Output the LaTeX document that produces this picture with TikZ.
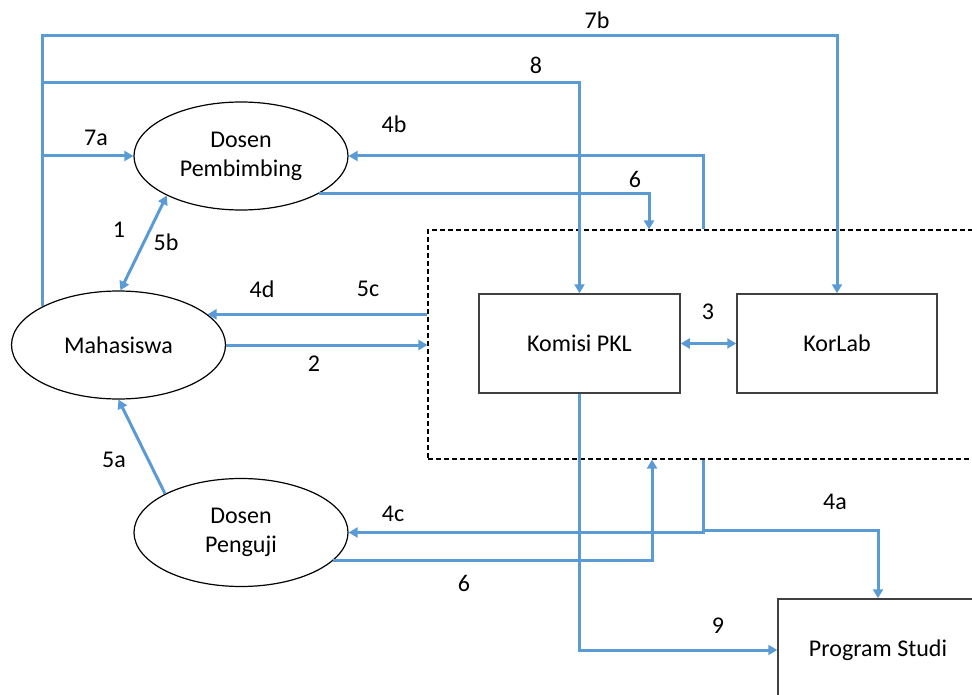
\documentclass[tikz,border=0pt]{standalone}
\usepackage{fontspec}
\setmainfont{Carlito}
\usetikzlibrary{arrows.meta,shapes.geometric,calc}
\definecolor{flow}{RGB}{91,155,213}
\begin{document}
\begin{tikzpicture}[x=1pt,y=-1pt,
  every node/.style={font=\fontsize{24}{29}\selectfont},
  ell/.style={ellipse,draw=black,line width=1.2pt,minimum width=214pt,minimum height=108pt,inner sep=0pt,align=center},
  boxnode/.style={rectangle,draw=black!75,line width=1.5pt,inner sep=0pt,align=center},
  lbl/.style={inner sep=0pt},
  flowline/.style={draw=flow,line width=3pt},
  arr/.style={flowline,-{Triangle[length=9pt,width=10pt]}},
  dblarr/.style={flowline,{Triangle[length=9pt,width=10pt]}-{Triangle[length=9pt,width=10pt]}},
  group/.style={draw=black,line width=1.1pt,dash pattern=on 5pt off 3pt,inner sep=0pt}
]
\useasboundingbox (0,0) rectangle (972,695);
\clip (0,0) rectangle (972,695);

% group and nodes
\node[group,minimum width=570pt,minimum height=229pt] (grp) at (713,344.5) {};
\node[ell] (M) at (118.5,345) {Mahasiswa};
\node[ell] (DP) at (241,156) {Dosen\\Pembimbing};
\node[ell] (DG) at (241,532.5) {Dosen\\Penguji};
\node[boxnode,minimum width=201pt,minimum height=99pt] (KP) at (579.5,343.5) {Komisi PKL};
\node[boxnode,minimum width=200pt,minimum height=99pt] (KL) at (837,343.5) {KorLab};
\node[boxnode,minimum width=200pt,minimum height=102pt] (PS) at (878,650) {Program Studi};

% helper coordinates
\coordinate (x703) at (703,0);
\coordinate (x649) at (649,0);
\coordinate (x652) at (652,0);
\coordinate (y7b) at (0,36);
\coordinate (y8) at (0,83);
\coordinate (j4) at (703,530);

% connectors
\draw[arr] (M.153) -- (M.153 |- y7b) -| (KL.north);
\draw[arr] (M.153 |- y8) -| (KP.north);
\draw[arr] (M.153 |- DP.west) -- (DP.west);
\draw[arr] (grp.north -| x703) |- (DP.east);
\draw[arr] (DP.-26) -| (grp.north -| x649);
\draw[dblarr] (M.88) -- (DP.208);
\draw[arr] (grp.west |- M.19) -- (M.19);
\draw[arr] (M.east) -- (M.east -| grp.west);
\draw[dblarr] (KP.east) -- (KL.west);
\draw[arr] (DG.153) -- (M.south);
\draw[arr] (grp.south -| x703) |- (DG.east);
\draw[arr] (j4) -| (PS.north);
\draw[arr] (DG.-17) -| (grp.south -| x652);
\draw[arr] (KP.south) |- (PS.west);

% labels
\node[lbl] (l7b) at (597,20) {7b};
\node[lbl] (l8) at (536,65) {8};
\node[lbl] (l7a) at (96,138) {7a};
\node[lbl] (l4b) at (394,124) {4b};
\node[lbl] (l6a) at (635,179) {6};
\node[lbl] (l1) at (119,230) {1};
\node[lbl] (l5b) at (166,242) {5b};
\node[lbl] (l4d) at (262,289) {4d};
\node[lbl] (l5c) at (368,289) {5c};
\node[lbl] (l2) at (314,364) {2};
\node[lbl] (l3) at (708,312) {3};
\node[lbl] (l5a) at (114,460) {5a};
\node[lbl] (l4c) at (393,514) {4c};
\node[lbl] (l6b) at (464,583) {6};
\node[lbl] (l4a) at (835,502) {4a};
\node[lbl] (l9) at (718,626) {9};
\end{tikzpicture}
\end{document}
